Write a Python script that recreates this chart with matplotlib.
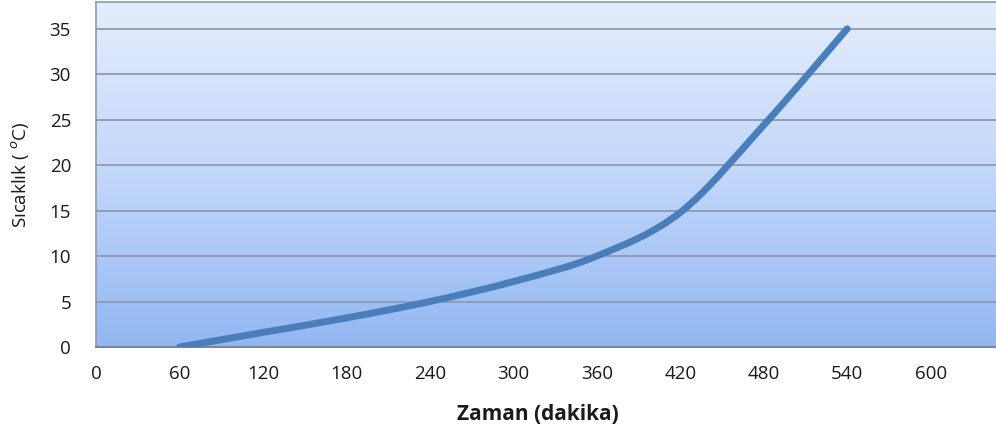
import numpy as np
import matplotlib
matplotlib.use("Agg")
import matplotlib.pyplot as plt
from matplotlib.path import Path
from matplotlib.patches import PathPatch
from matplotlib.colors import LinearSegmentedColormap

# Data
time_min = [60, 120, 180, 240, 300, 360, 420, 480, 540]
temp_c = [0.0, 1.6, 3.2, 5.0, 7.2, 10.0, 14.8, 24.4, 35.0]
x_ticks = [0, 60, 120, 180, 240, 300, 360, 420, 480, 540, 600]
y_ticks = [0, 5, 10, 15, 20, 25, 30, 35]
x_label = "Zaman (dakika)"
y_label = "Sıcaklık ( $^{o}$C)"

plt.rcParams['font.family'] = ['Open Sans', 'DejaVu Sans']

fig = plt.figure(figsize=(9.96, 4.32), dpi=100)
ax = fig.add_axes([96/996, 1 - 347/432, 1 - 96/996, (347 - 2)/432])
ax.set_xlim(0, 647)
ax.set_ylim(0, 37.95)

# gradient background
grad = np.linspace(0, 1, 256).reshape(-1, 1)
cmap = LinearSegmentedColormap.from_list("bg", ["#92B7F2", "#C3D7FA", "#E4EDFC"])
ax.imshow(grad, extent=[0, 1, 0, 1], transform=ax.transAxes, cmap=cmap,
          origin="lower", aspect="auto", zorder=0)

ax.set_yticks(y_ticks)
ax.set_xticks(x_ticks)
ax.grid(axis='y', color='#8F99A8', linewidth=1.3, zorder=1)
ax.grid(axis='x', visible=False)
ax.tick_params(length=0, labelsize=13.5, colors='#1A1A1A')
ax.tick_params(axis='y', pad=18)
ax.tick_params(axis='x', pad=13)
for s in ['left', 'top']:
    ax.spines[s].set_color('#8F99A8')
    ax.spines[s].set_linewidth(1.2)
ax.spines['right'].set_visible(False)
ax.spines['bottom'].set_color('#7F8794')
ax.spines['bottom'].set_linewidth(1.5)

# smooth (Catmull-Rom -> cubic Bezier) line through the data points
pts = np.column_stack([time_min, temp_c]).astype(float)
verts = [tuple(pts[0])]
codes = [Path.MOVETO]
n = len(pts)
for i in range(n - 1):
    p0 = pts[i - 1] if i > 0 else pts[i]
    p1 = pts[i]
    p2 = pts[i + 1]
    p3 = pts[i + 2] if i + 2 < n else pts[i + 1]
    c1 = p1 + (p2 - p0) / 6.0
    c2 = p2 - (p3 - p1) / 6.0
    verts += [tuple(c1), tuple(c2), tuple(p2)]
    codes += [Path.CURVE4] * 3
patch = PathPatch(Path(verts, codes), facecolor='none', edgecolor='#4A7EBB',
                  linewidth=5, capstyle='round', joinstyle='round', zorder=3)
ax.add_patch(patch)

fig.text(0.021, 1 - 175/432, y_label, rotation=90, ha='center', va='center',
         fontsize=13.5, color='#1A1A1A')
fig.text(538/996, 1 - 414/432, x_label, ha='center', va='center',
         fontsize=15, fontweight='bold', color='#1A1A1A')

fig.savefig("out.png", dpi=100)
